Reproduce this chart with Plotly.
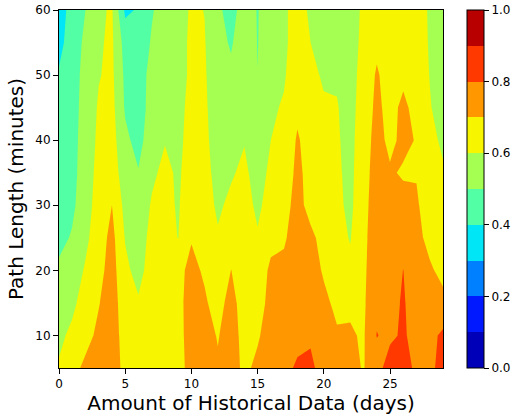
import plotly.graph_objects as go

days = list(range(30))
path_lengths = [5, 10, 15, 20, 25, 30, 35, 40, 45, 50, 55, 60]

pl_60 = [0.34, 0.45, 0.50, 0.585, 0.61, 0.38, 0.41, 0.49, 0.55, 0.55, 0.615, 0.598, 0.52, 0.46, 0.55, 0.495, 0.56, 0.58, 0.65, 0.58, 0.56, 0.56, 0.55, 0.62, 0.66, 0.64, 0.63, 0.62, 0.595, 0.56]
pl_55 = [0.37, 0.45, 0.52, 0.59, 0.615, 0.46, 0.43, 0.51, 0.55, 0.56, 0.62, 0.605, 0.53, 0.49, 0.56, 0.497, 0.56, 0.58, 0.65, 0.60, 0.57, 0.57, 0.55, 0.63, 0.68, 0.65, 0.65, 0.63, 0.595, 0.56]
pl_50 = [0.41, 0.46, 0.53, 0.595, 0.62, 0.48, 0.44, 0.54, 0.56, 0.56, 0.62, 0.61, 0.54, 0.52, 0.56, 0.501, 0.57, 0.59, 0.66, 0.62, 0.59, 0.59, 0.56, 0.64, 0.71, 0.66, 0.68, 0.65, 0.598, 0.565]
pl_45 = [0.43, 0.46, 0.54, 0.61, 0.63, 0.49, 0.45, 0.54, 0.57, 0.57, 0.63, 0.615, 0.55, 0.54, 0.57, 0.52, 0.585, 0.61, 0.68, 0.64, 0.61, 0.605, 0.565, 0.65, 0.72, 0.67, 0.72, 0.67, 0.605, 0.57]
pl_40 = [0.44, 0.47, 0.54, 0.62, 0.64, 0.52, 0.47, 0.55, 0.595, 0.575, 0.64, 0.62, 0.56, 0.56, 0.595, 0.54, 0.60, 0.63, 0.71, 0.66, 0.63, 0.61, 0.57, 0.66, 0.73, 0.68, 0.72, 0.695, 0.625, 0.585]
pl_35 = [0.45, 0.47, 0.55, 0.63, 0.66, 0.54, 0.505, 0.58, 0.625, 0.585, 0.65, 0.63, 0.57, 0.59, 0.62, 0.56, 0.62, 0.65, 0.72, 0.67, 0.64, 0.615, 0.575, 0.665, 0.74, 0.71, 0.69, 0.695, 0.65, 0.61]
pl_30 = [0.46, 0.48, 0.56, 0.64, 0.70, 0.57, 0.53, 0.61, 0.63, 0.59, 0.67, 0.64, 0.585, 0.62, 0.64, 0.58, 0.64, 0.67, 0.73, 0.67, 0.65, 0.62, 0.58, 0.67, 0.75, 0.73, 0.73, 0.71, 0.66, 0.63]
pl_25 = [0.47, 0.51, 0.58, 0.65, 0.73, 0.595, 0.55, 0.63, 0.64, 0.598, 0.695, 0.66, 0.61, 0.66, 0.65, 0.61, 0.67, 0.69, 0.74, 0.72, 0.67, 0.63, 0.595, 0.675, 0.76, 0.75, 0.77, 0.72, 0.68, 0.65]
pl_20 = [0.52, 0.55, 0.61, 0.67, 0.74, 0.62, 0.57, 0.64, 0.65, 0.68, 0.72, 0.69, 0.64, 0.701, 0.66, 0.64, 0.72, 0.72, 0.76, 0.74, 0.69, 0.65, 0.62, 0.68, 0.77, 0.76, 0.801, 0.73, 0.71, 0.68]
pl_15 = [0.55, 0.58, 0.64, 0.695, 0.75, 0.64, 0.61, 0.65, 0.66, 0.68, 0.73, 0.71, 0.67, 0.73, 0.66, 0.66, 0.73, 0.74, 0.77, 0.76, 0.72, 0.68, 0.685, 0.685, 0.78, 0.77, 0.81, 0.75, 0.73, 0.72]
pl_10 = [0.58, 0.62, 0.67, 0.72, 0.76, 0.65, 0.64, 0.65, 0.66, 0.67, 0.74, 0.73, 0.695, 0.74, 0.67, 0.69, 0.74, 0.76, 0.78, 0.79, 0.74, 0.71, 0.71, 0.69, 0.803, 0.78, 0.815, 0.76, 0.77, 0.82]
pl_05 = [0.61, 0.67, 0.72, 0.76, 0.77, 0.66, 0.65, 0.66, 0.67, 0.66, 0.74, 0.74, 0.71, 0.74, 0.68, 0.72, 0.76, 0.78, 0.81, 0.815, 0.77, 0.73, 0.72, 0.695, 0.76, 0.85, 0.86, 0.77, 0.78, 0.83]

z = [pl_05, pl_10, pl_15, pl_20, pl_25, pl_30, pl_35, pl_40, pl_45, pl_50, pl_55, pl_60]

band_colors = ["#0000b9", "#0019ff", "#0080ff", "#00e6f7", "#52ffa4",
               "#a4ff52", "#f7f500", "#ff9700", "#ff3900", "#b90000"]
colorscale = []
for i, c in enumerate(band_colors):
    colorscale.append([i / 10, c])
    colorscale.append([(i + 1) / 10, c])

cb_ticks = [0, 0.2, 0.4, 0.6, 0.8, 1.0]
cb_text = ["0.0", "0.2", "0.4", "0.6", "0.8", "1.0"]

font = "DejaVu Sans"

fig = go.Figure(go.Contour(
    x=days, y=path_lengths, z=z,
    zmin=0, zmax=1,
    contours=dict(start=0, end=1, size=0.1, coloring="fill", showlines=False),
    line=dict(width=0, smoothing=0),
    colorscale=colorscale,
    hoverinfo="skip",
    colorbar=dict(
        tickvals=cb_ticks, ticktext=cb_text,
        ticks="outside", ticklen=5, tickcolor="black",
        thickness=17, len=1, lenmode="fraction",
        x=1.0625, xanchor="left", y=0.5, yanchor="middle",
        xpad=0, ypad=0,
        outlinewidth=1, outlinecolor="black",
        tickfont=dict(family=font, size=12, color="black"),
    ),
))

fig.update_layout(
    width=516, height=417,
    margin=dict(l=59, r=73, t=10, b=49, autoexpand=False),
    paper_bgcolor="white", plot_bgcolor="white",
    font=dict(family=font, color="black"),
)
fig.update_xaxes(
    range=[0, 29], tickvals=[0, 5, 10, 15, 20, 25],
    ticks="outside", ticklen=5, tickcolor="black",
    showline=True, mirror=True, linecolor="black", linewidth=1,
    showgrid=False, zeroline=False,
    tickfont=dict(family=font, size=12),
    title=dict(text="Amount of Historical Data (days)", font=dict(family=font, size=20), standoff=2),
)
fig.update_yaxes(
    range=[5, 60], tickvals=[10, 20, 30, 40, 50, 60],
    ticks="outside", ticklen=5, tickcolor="black",
    showline=True, mirror=True, linecolor="black", linewidth=1,
    showgrid=False, zeroline=False,
    tickfont=dict(family=font, size=12),
    title=dict(text="Path Length (minutes)", font=dict(family=font, size=20), standoff=6),
)

fig.write_html(
    "out.html",
    config={"displayModeBar": False},
    post_script="document.body.style.margin='0';document.body.style.overflow='hidden';",
)
